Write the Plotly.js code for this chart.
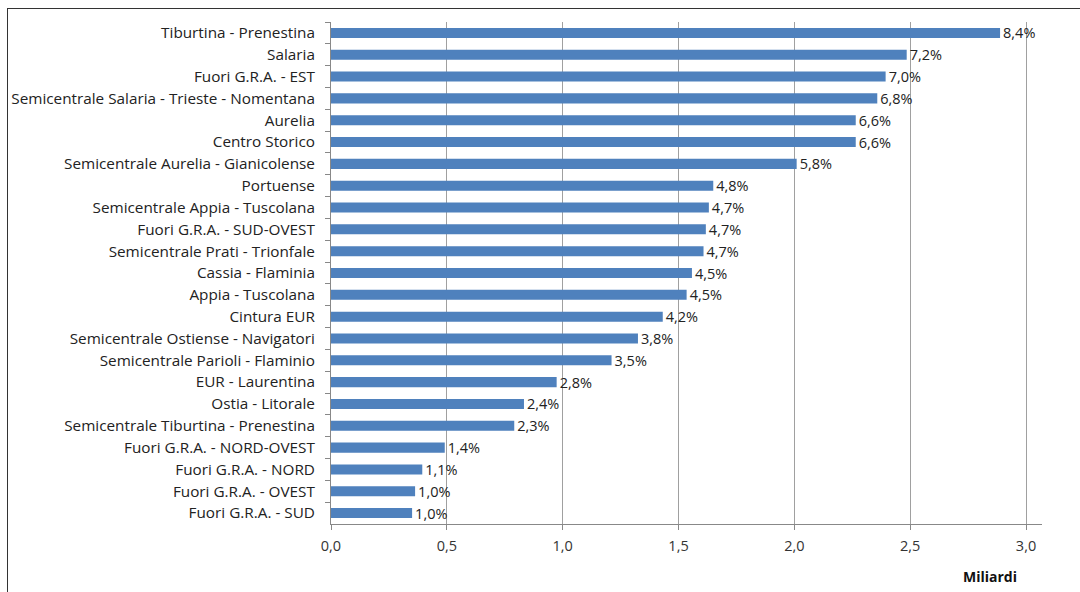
<!DOCTYPE html>
<html>
<head>
<meta charset="utf-8">
<script src="https://cdn.plot.ly/plotly-3.0.1.min.js"></script>
<style>
html,body{margin:0;padding:0;background:#fff;}
#chart{width:1080px;height:592px;}
#frame{position:absolute;left:7px;top:8px;width:1090px;height:600px;border:1px solid #333;pointer-events:none;}
</style>
</head>
<body>
<div id="chart"></div>
<div id="frame"></div>
<script>
const zones = [
  "Tiburtina - Prenestina",
  "Salaria",
  "Fuori G.R.A. - EST",
  "Semicentrale Salaria - Trieste - Nomentana",
  "Aurelia",
  "Centro Storico",
  "Semicentrale Aurelia - Gianicolense",
  "Portuense",
  "Semicentrale Appia - Tuscolana",
  "Fuori G.R.A. - SUD-OVEST",
  "Semicentrale Prati - Trionfale",
  "Cassia - Flaminia",
  "Appia - Tuscolana",
  "Cintura EUR",
  "Semicentrale Ostiense - Navigatori",
  "Semicentrale Parioli - Flaminio",
  "EUR - Laurentina",
  "Ostia - Litorale",
  "Semicentrale Tiburtina - Prenestina",
  "Fuori G.R.A. - NORD-OVEST",
  "Fuori G.R.A. - NORD",
  "Fuori G.R.A. - OVEST",
  "Fuori G.R.A. - SUD"
];
const valuesMiliardi = [2.888, 2.485, 2.394, 2.358, 2.265, 2.265, 2.010, 1.650, 1.631, 1.618, 1.608, 1.558, 1.535, 1.432, 1.325, 1.211, 0.974, 0.833, 0.791, 0.491, 0.394, 0.363, 0.350];
const shareLabels = ["8,4%","7,2%","7,0%","6,8%","6,6%","6,6%","5,8%","4,8%","4,7%","4,7%","4,7%","4,5%","4,5%","4,2%","3,8%","3,5%","2,8%","2,4%","2,3%","1,4%","1,1%","1,0%","1,0%"];
const xTicks = [0, 0.5, 1, 1.5, 2, 2.5, 3];
const xTickText = ["0,0","0,5","1,0","1,5","2,0","2,5","3,0"];

const font = "Open Sans, Noto Sans, sans-serif";

const trace = {
  type: "bar",
  orientation: "h",
  x: valuesMiliardi,
  y: zones,
  text: shareLabels,
  textposition: "outside",
  constraintext: "none",
  cliponaxis: false,
  textfont: {family: font, size: 14.5, color: "#222"},
  marker: {color: "#4f81bd"},
  width: 0.46,
  hoverinfo: "x+y"
};

const layout = {
  width: 1080,
  height: 592,
  margin: {l: 331, r: 38, t: 22, b: 68},
  paper_bgcolor: "#fff",
  plot_bgcolor: "#fff",
  showlegend: false,
  font: {family: font, size: 15, color: "#222"},
  xaxis: {
    range: [0, 3.069],
    tickvals: xTicks,
    ticktext: xTickText,
    showgrid: true,
    gridcolor: "#a0a0a0",
    gridwidth: 1,
    zeroline: false,
    showline: true,
    linecolor: "#888",
    linewidth: 1,
    ticks: "outside",
    ticklen: 5,
    tickcolor: "#888",
    tickfont: {family: font, size: 14.5, color: "#333"},
    ticklabelstandoff: 4,
    fixedrange: true
  },
  yaxis: {
    type: "category",
    autorange: "reversed",
    showgrid: false,
    showline: true,
    linecolor: "#888",
    linewidth: 1,
    ticks: "outside",
    tickson: "boundaries",
    ticklen: 5,
    tickcolor: "#888",
    tickfont: {family: font, size: 15.3, color: "#222"},
    ticklabelstandoff: 12,
    fixedrange: true
  },
  annotations: [{
    text: "<b>Miliardi</b>",
    xref: "paper", yref: "paper",
    x: 0.927, y: -0.082,
    xanchor: "center", yanchor: "top",
    showarrow: false,
    font: {family: font, size: 14, color: "#111"}
  }]
};

Plotly.newPlot("chart", [trace], layout, {displayModeBar: false, staticPlot: true});
</script>
</body>
</html>
